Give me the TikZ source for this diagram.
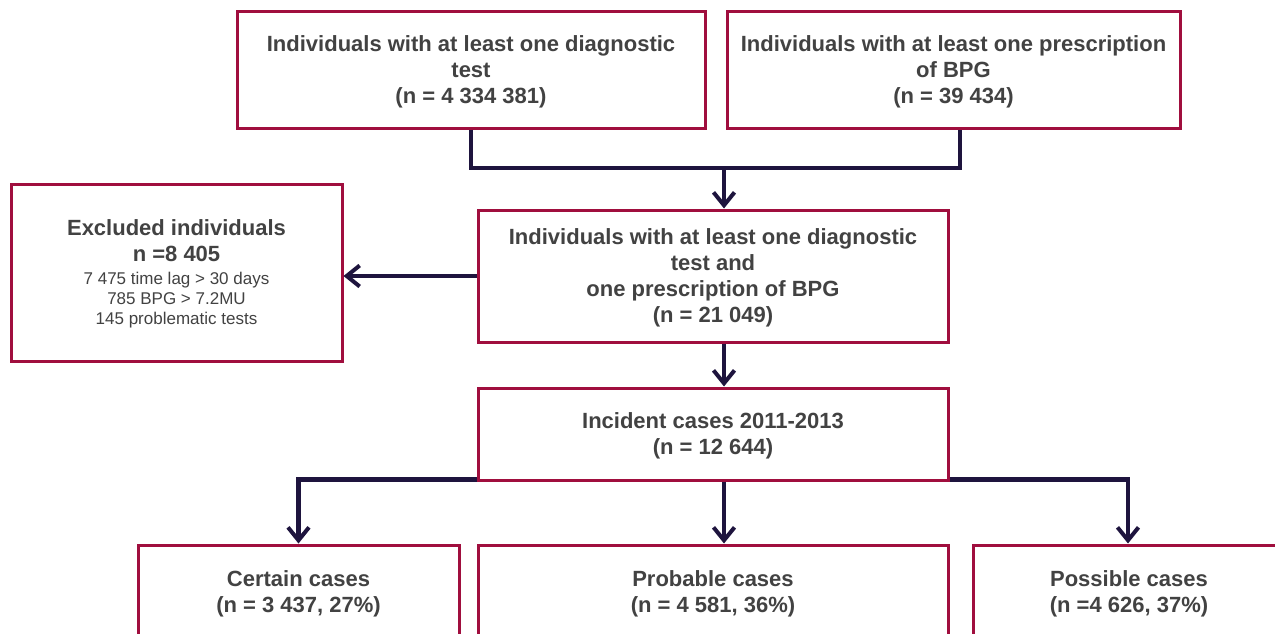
\documentclass[tikz,border=0pt]{standalone}
\usepackage{fontspec}
\setmainfont{Liberation Sans}
\usetikzlibrary{arrows.meta}

\definecolor{boxred}{RGB}{160,14,62}
\definecolor{linknavy}{RGB}{30,20,62}
\definecolor{textgrey}{RGB}{66,66,66}

\tikzset{every picture/.style={line width=0.75pt}}
\tikzset{
  flowbox/.style={draw=boxred, line width=3pt, fill=white, align=center, inner sep=0pt,
    text depth=0pt, text=textgrey, font=\fontsize{22}{26}\selectfont\bfseries},
  link/.style={draw=linknavy, line width=4.5pt},
  linkarrow/.style={link, -{Straight Barb[length=13pt,width=21pt,line width=4pt]}},
}
\newcommand{\smalltxt}{\fontsize{17}{20}\selectfont\mdseries}

\begin{document}
\begin{tikzpicture}[x=1pt,y=1pt,yscale=-1,xscale=1]
		\useasboundingbox (0,0) rectangle (1275,634);
		
		%Shape: Rectangle [top left]
		\node [flowbox, minimum width=468, minimum height=116] (diag) at (471,70)
		  {Individuals with at least one diagnostic\\test\\(n = 4 334 381)};
		%Shape: Rectangle [top right]
		\node [flowbox, minimum width=453, minimum height=116] (presc) at (953.5,70)
		  {Individuals with at least one prescription\\of BPG\\(n = 39 434)};
		%Shape: Rectangle [both]
		\node [flowbox, minimum width=470, minimum height=132] (both) at (713,276)
		  {\fontsize{22}{25}\selectfont Individuals with at least one diagnostic\\test and\\one prescription of BPG\\(n = 21 049)};
		%Shape: Rectangle [excluded]
		\node [flowbox, minimum width=331, minimum height=177] (excl) at (176.5,272.5)
		  {Excluded individuals\\n =8 405\\[-3pt]\smalltxt 7 475 time lag > 30 days\\[-6pt]\smalltxt 785 BPG > 7.2MU\\[-6pt]\smalltxt 145 problematic tests};
		%Shape: Rectangle [incident]
		\node [flowbox, minimum width=470, minimum height=92] (incid) at (713,434)
		  {Incident cases 2011-2013\\(n = 12 644)};
		%Shape: Rectangle [bottom row]
		\node [flowbox, minimum width=321, minimum height=94] (cert) at (298.5,592)
		  {Certain cases\\(n = 3 437, 27\%)};
		\node [flowbox, minimum width=470, minimum height=94] (prob) at (713,592)
		  {Probable cases\\(n = 4 581, 36\%)};
		\node [flowbox, minimum width=312, minimum height=94] (poss) at (1129,592)
		  {Possible cases\\(n =4 626, 37\%)};
		
		\coordinate (join) at (724,168);
		\draw [link] (diag.south) |- (join) -| ([xshift=6.5]presc.south);
		\draw [linkarrow] (join) -- ([xshift=11]both.north);
		\draw [linkarrow] (both.west) -- (both.west -| excl.east);
		\draw [linkarrow] ([xshift=11]both.south) -- ([xshift=11]incid.north);
		\draw [linkarrow] ([yshift=-2]incid.south west) -| (cert.north);
		\draw [linkarrow] ([yshift=-2]incid.south east) -| ([xshift=-1]poss.north);
		\draw [linkarrow] ([xshift=11]incid.south) -- ([xshift=11]prob.north);
		
	\end{tikzpicture}
\end{document}
